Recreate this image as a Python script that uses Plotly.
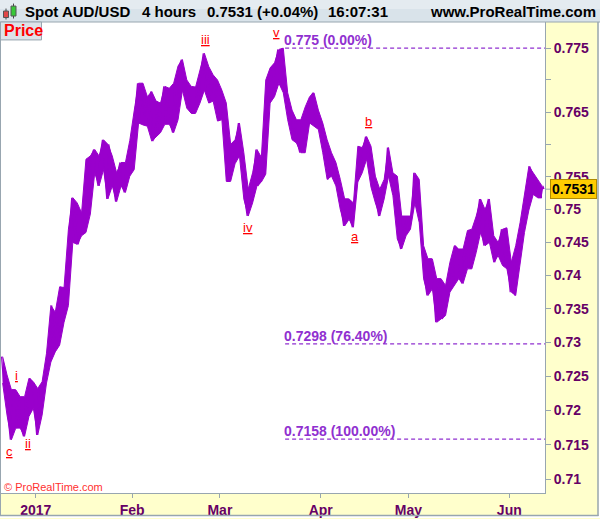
import numpy as np
import pandas as pd
import plotly.graph_objects as go

# ---------------- data ----------------
trading_days = pd.bdate_range("2016-12-21", "2017-06-12")

day_high = [
    0.7279, 0.7252, 0.7230, 0.7230, 0.7220, 0.7220, 0.7247, 0.7242,
    0.7232, 0.7242, 0.7284, 0.7355, 0.7345, 0.7383, 0.7382, 0.7470, 0.7518, 0.7510,
    0.7495, 0.7577, 0.7582, 0.7592, 0.7582, 0.7607, 0.7600, 0.7582, 0.7556, 0.7572,
    0.7572, 0.7606, 0.7652, 0.7695, 0.7695, 0.7674, 0.7682, 0.7667, 0.7664, 0.7690,
    0.7687, 0.7695, 0.7722, 0.7732, 0.7700, 0.7690, 0.7689, 0.7716, 0.7742, 0.7721,
    0.7708, 0.7700, 0.7684, 0.7664, 0.7600, 0.7607, 0.7633, 0.7587, 0.7531, 0.7556,
    0.7592, 0.7580, 0.7700, 0.7719, 0.7727, 0.7748, 0.7750, 0.7680, 0.7653, 0.7638,
    0.7638, 0.7658, 0.7674, 0.7680, 0.7653, 0.7633, 0.7607, 0.7587, 0.7572, 0.7546,
    0.7516, 0.7516, 0.7510, 0.7597, 0.7595, 0.7612, 0.7597, 0.7551, 0.7531, 0.7546,
    0.7595, 0.7556, 0.7551, 0.7490, 0.7490, 0.7490, 0.7556, 0.7546, 0.7445, 0.7425,
    0.7425, 0.7395, 0.7395, 0.7385, 0.7420, 0.7445, 0.7440, 0.7440, 0.7468, 0.7470,
    0.7490, 0.7516, 0.7500, 0.7516, 0.7460, 0.7450, 0.7470, 0.7472, 0.7420, 0.7445,
    0.7480, 0.7521, 0.7566, 0.7556, 0.7546, 0.7536,
]
day_low = [
    0.7240, 0.7193, 0.7157, 0.7174, 0.7174, 0.7162, 0.7191, 0.7203,
    0.7164, 0.7193, 0.7240, 0.7271, 0.7286, 0.7296, 0.7330, 0.7355, 0.7450, 0.7447,
    0.7460, 0.7465, 0.7493, 0.7556, 0.7536, 0.7561, 0.7516, 0.7536, 0.7512, 0.7536,
    0.7526, 0.7551, 0.7561, 0.7633, 0.7630, 0.7628, 0.7605, 0.7611, 0.7618, 0.7631,
    0.7631, 0.7618, 0.7638, 0.7684, 0.7656, 0.7648, 0.7648, 0.7664, 0.7684, 0.7664,
    0.7667, 0.7636, 0.7638, 0.7543, 0.7543, 0.7570, 0.7582, 0.7516, 0.7490, 0.7510,
    0.7536, 0.7542, 0.7554, 0.7664, 0.7674, 0.7695, 0.7680, 0.7638, 0.7607, 0.7602,
    0.7587, 0.7587, 0.7633, 0.7628, 0.7623, 0.7587, 0.7546, 0.7551, 0.7536, 0.7500,
    0.7475, 0.7485, 0.7473, 0.7542, 0.7556, 0.7577, 0.7534, 0.7510, 0.7490, 0.7516,
    0.7551, 0.7521, 0.7455, 0.7440, 0.7460, 0.7470, 0.7510, 0.7480, 0.7395, 0.7370,
    0.7380, 0.7330, 0.7335, 0.7340, 0.7375, 0.7385, 0.7395, 0.7388, 0.7410, 0.7410,
    0.7435, 0.7465, 0.7445, 0.7450, 0.7420, 0.7430, 0.7415, 0.7410, 0.7375, 0.7370,
    0.7415, 0.7465, 0.7499, 0.7523, 0.7518, 0.7518,
]
last_price = 0.7531

fib_levels = [0.775, 0.7298, 0.7158]
fib_labels = ["0.775 (0.00%)", "0.7298 (76.40%)", "0.7158 (100.00%)"]
fib_start = "2017-03-21 21:00"

wave_text = ["c", "i", "ii", "iii", "iv", "v", "a", "b"]
wave_x = ["2016-12-22 23:00", "2016-12-26 16:00", "2016-12-29 07:30", "2017-02-23 14:40",
          "2017-03-09 10:00", "2017-03-17 23:00", "2017-04-12 18:00", "2017-04-18 00:00"]
wave_y = [0.7140, 0.7251, 0.7152, 0.7763, 0.7472, 0.7774, 0.7459, 0.7635]

y_tick_vals = [0.775, 0.77, 0.765, 0.76, 0.755, 0.75, 0.745, 0.74, 0.735, 0.73,
               0.725, 0.72, 0.715, 0.71]
y_tick_text = ["0.775", "", "0.765", "", "0.755", "0.75", "0.745", "0.74", "0.735",
               "0.73", "0.725", "0.72", "0.715", "0.71"]
x_tick_vals = ["2017-01-02", "2017-02-01", "2017-03-01", "2017-04-03", "2017-05-01", "2017-06-01"]
x_tick_text = ["2017", "Feb", "Mar", "Apr", "May", "Jun"]

x_range = ["2016-12-21 02:00", "2017-06-13 03:20"]
y_range = [0.7080, 0.77913]

assert len(trading_days) == len(day_high) == len(day_low)

# ---------------- build price path ----------------
xs, ys = [], []
n = len(trading_days)
for i, d in enumerate(trading_days):
    mid = (day_high[i] + day_low[i]) / 2
    nxt = (day_high[i + 1] + day_low[i + 1]) / 2 if i + 1 < n else last_price
    if nxt > mid:
        a, b = day_low[i], day_high[i]
    else:
        a, b = day_high[i], day_low[i]
    xs += [d + pd.Timedelta(hours=5), d + pd.Timedelta(hours=16)]
    ys += [a, b]
xs.append(trading_days[-1] + pd.Timedelta(hours=22))
ys.append(last_price)

day_centers = [d + pd.Timedelta(hours=11) for d in trading_days]

PURPLE = "#9900cc"
FIBC = "#9030d0"
GRAY = "#98a6b0"
AXTXT = "#660066"
FONT = "Liberation Sans, Arial, sans-serif"

fig = go.Figure()
# daily high-low band
fig.add_trace(go.Scatter(x=day_centers, y=day_high, mode="lines",
                         line=dict(color=PURPLE, width=1), hoverinfo="skip"))
fig.add_trace(go.Scatter(x=day_centers, y=day_low, mode="lines", fill="tonexty",
                         fillcolor=PURPLE,
                         line=dict(color=PURPLE, width=1), hoverinfo="skip"))
# intraday path
fig.add_trace(go.Scatter(x=xs, y=ys, mode="lines",
                         line=dict(color=PURPLE, width=1.2), hoverinfo="skip"))
for lvl in fib_levels:
    fig.add_trace(go.Scatter(x=[fib_start, x_range[1]], y=[lvl, lvl], mode="lines",
                             line=dict(color=FIBC, width=1.2, dash="4px,3px"),
                             hoverinfo="skip"))


def px_x(px):
    return (px - 1) / 544


def px_y(py):
    return (495 - py) / 473


shapes = []
shapes.append(dict(type="rect", xref="paper", yref="paper", x0=px_x(0), x1=px_x(600),
                   y0=px_y(22), y1=px_y(0), fillcolor="#d9e3ea", line=dict(width=0), layer="below"))
shapes.append(dict(type="rect", xref="paper", yref="paper", x0=px_x(0), x1=px_x(600),
                   y0=px_y(9), y1=px_y(0), fillcolor="#e4ebf0", line=dict(width=0), layer="below"))
shapes.append(dict(type="line", xref="paper", yref="paper", x0=px_x(0), x1=px_x(600),
                   y0=px_y(22), y1=px_y(22), line=dict(color=GRAY, width=1)))
shapes.append(dict(type="rect", xref="paper", yref="paper", x0=px_x(598.5), x1=px_x(601),
                   y0=px_y(520), y1=px_y(22), fillcolor="white", line=dict(width=0), layer="below"))
shapes.append(dict(type="rect", xref="paper", yref="paper", x0=px_x(0), x1=px_x(601),
                   y0=px_y(520), y1=px_y(518), fillcolor="white", line=dict(width=0), layer="below"))
shapes.append(dict(type="line", xref="paper", yref="paper", x0=px_x(0.5), x1=px_x(0.5),
                   y0=px_y(518), y1=px_y(22), line=dict(color=GRAY, width=1)))
shapes.append(dict(type="line", xref="paper", yref="paper", x0=px_x(0), x1=px_x(598.5),
                   y0=px_y(517.5), y1=px_y(517.5), line=dict(color=GRAY, width=1.5)))
shapes.append(dict(type="line", xref="paper", yref="paper", x0=px_x(598), x1=px_x(598),
                   y0=px_y(518), y1=px_y(22), line=dict(color=GRAY, width=1.5)))
shapes.append(dict(type="rect", xref="paper", yref="paper", x0=px_x(0.5), x1=px_x(41.5),
                   y0=px_y(40), y1=px_y(22), fillcolor="#dde3e8", line=dict(color=GRAY, width=1)))
shapes.append(dict(type="line", xref="paper", yref="paper", x0=px_x(6), x1=px_x(6),
                   y0=px_y(19.5), y1=px_y(8.5), line=dict(color="#444", width=1)))
shapes.append(dict(type="rect", xref="paper", yref="paper", x0=px_x(3.5), x1=px_x(8.5),
                   y0=px_y(17.5), y1=px_y(11), fillcolor="#e04848", line=dict(color="#555", width=1)))
shapes.append(dict(type="line", xref="paper", yref="paper", x0=px_x(13.5), x1=px_x(13.5),
                   y0=px_y(18.5), y1=px_y(3.5), line=dict(color="#444", width=1)))
shapes.append(dict(type="rect", xref="paper", yref="paper", x0=px_x(11), x1=px_x(16),
                   y0=px_y(16), y1=px_y(6), fillcolor="#38c838", line=dict(color="#555", width=1)))
shapes.append(dict(type="line", xref="paper", yref="y", x0=1.0, x1=px_x(551),
                   y0=last_price, y1=last_price, line=dict(color=GRAY, width=1)))

annotations = []
hdr_font = dict(family=FONT, size=15, color="black", weight="bold")
for txt, xp in [("Spot AUD/USD", 23), ("4 hours", 140), ("0.7531 (+0.04%)", 205), ("16:07:31", 326)]:
    annotations.append(dict(text=txt, xref="paper", yref="paper", x=px_x(xp), y=px_y(11.5),
                            xanchor="left", yanchor="middle", showarrow=False, font=hdr_font))
annotations.append(dict(text="www.ProRealTime.com", xref="paper", yref="paper", x=px_x(598),
                        y=px_y(11.5), xanchor="right", yanchor="middle", showarrow=False, font=hdr_font))
annotations.append(dict(text="Price", xref="paper", yref="paper", x=px_x(2), y=px_y(31),
                        xanchor="left", yanchor="middle", showarrow=False,
                        font=dict(family=FONT, size=16, color="#ff0000", weight="bold")))
annotations.append(dict(text="© ProRealTime.com", xref="paper", yref="paper", x=px_x(2), y=px_y(489),
                        xanchor="left", yanchor="middle", showarrow=False,
                        font=dict(family=FONT, size=11, color="#ff3030")))
for lvl, lab in zip(fib_levels, fib_labels):
    annotations.append(dict(text=lab, x=fib_start, y=np.log10(lvl), xref="x", yref="y",
                            xanchor="left", yanchor="bottom", yshift=-2, xshift=-3, showarrow=False,
                            font=dict(family=FONT, size=14, color=FIBC, weight="bold")))
for t, wx, wy in zip(wave_text, wave_x, wave_y):
    annotations.append(dict(text="<u>" + t + "</u>", x=wx, y=np.log10(wy), xref="x", yref="y",
                            xanchor="center", yanchor="middle", showarrow=False,
                            font=dict(family=FONT, size=13, color="#ff0000")))
annotations.append(dict(text="0.7531", xref="paper", yref="y", x=px_x(550), y=np.log10(last_price),
                        xanchor="left", yanchor="middle", showarrow=False, bgcolor="#ffcc00",
                        bordercolor="#b08a00", borderwidth=1, borderpad=1,
                        font=dict(family=FONT, size=14, color="black", weight="bold")))

fig.update_layout(
    width=600, height=519,
    margin=dict(l=1, r=55, t=22, b=24),
    paper_bgcolor="#ffffcc",
    plot_bgcolor="white",
    showlegend=False,
    shapes=shapes,
    annotations=annotations,
    xaxis=dict(type="date", range=x_range,
               rangebreaks=[dict(bounds=["sat", "mon"])],
               tickvals=x_tick_vals, ticktext=x_tick_text,
               ticks="outside", ticklen=4, tickcolor=GRAY, showgrid=False, zeroline=False,
               showline=True, linecolor=GRAY, linewidth=1,
               tickfont=dict(family=FONT, size=14, color=AXTXT, weight="bold")),
    yaxis=dict(type="log", side="right", range=[np.log10(y_range[0]), np.log10(y_range[1])],
               tickvals=y_tick_vals, ticktext=y_tick_text,
               ticks="outside", ticklen=5, tickcolor=GRAY, showgrid=False, zeroline=False,
               showline=True, linecolor=GRAY, linewidth=1,
               tickfont=dict(family=FONT, size=14, color=AXTXT, weight="bold")),
)

fig.write_html("out.html", config={"displayModeBar": False},
               post_script="document.body.style.margin='0';document.body.style.overflow='hidden';")
